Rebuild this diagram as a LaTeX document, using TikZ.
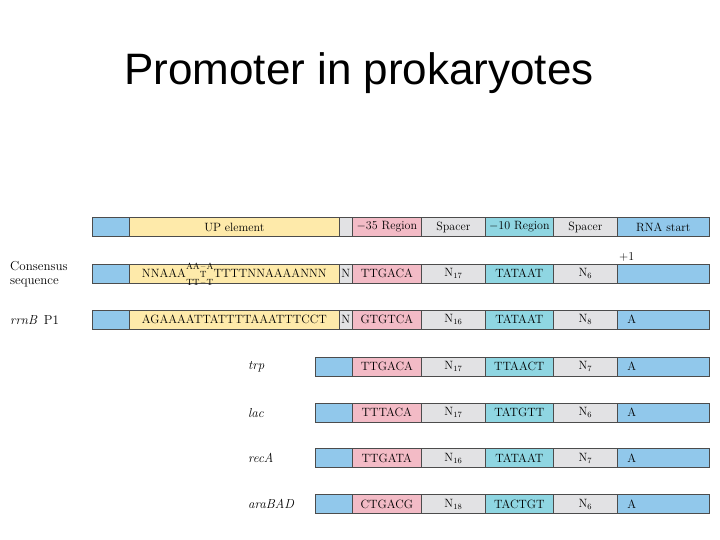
\documentclass[tikz,border=0pt]{standalone}
\usepackage{xcolor}
\usepackage{fontspec}
\usepackage{tikz}

\newfontfamily\titlefont{Liberation Sans}

\definecolor{dnablue}{RGB}{145,200,235}
\definecolor{upyellow}{RGB}{254,234,170}
\definecolor{spgrey}{RGB}{226,226,228}
\definecolor{boxpink}{RGB}{243,187,198}
\definecolor{boxcyan}{RGB}{143,214,226}

% stacked A/T choices in the UP consensus
\newcommand{\upchoice}{\smash{\fontsize{9}{9}\selectfont\renewcommand{\arraystretch}{0.85}%
  \begin{tabular}[c]{@{}c@{}c@{}c@{}}AA&\textendash&A\\&T&\\TT&\textendash&T\end{tabular}}}

\begin{document}
\begin{tikzpicture}[x=1pt, y=-1pt,
    cell/.style={draw=black!70, line width=0.7pt, rectangle, anchor=west,
      minimum height=19pt, inner sep=0pt, font=\fontsize{12}{14}\selectfont},
    leadcell/.style={cell, fill=dnablue, minimum width=37pt},
    upcell/.style={cell, fill=upyellow, minimum width=210pt},
    ncell/.style={cell, fill=spgrey, minimum width=13pt},
    m35cell/.style={cell, fill=boxpink, minimum width=69pt},
    spacercell/.style={cell, fill=spgrey, minimum width=64pt},
    m10cell/.style={cell, fill=boxcyan, minimum width=68pt},
    startcell/.style={cell, fill=dnablue, minimum width=92pt},
    startA/.style={startcell, text width=72pt, inner xsep=10pt, align=left},
    rowlabel/.style={anchor=west, inner sep=0pt, align=left, font=\fontsize{13}{14}\selectfont}]

    \useasboundingbox (0,0) rectangle (720,540);

    % Title
    \node[anchor=base, font=\titlefont\fontsize{44}{50}\selectfont] (title) at (359,85) {Promoter in prokaryotes};

    % Header row
    \node[leadcell] (headLead) at (92,227) {};
    \node[upcell] (headUP) at (129,227) {UP element};
    \node[ncell] (headN) at (339,227) {};
    \node[m35cell] (head35) at (352,227) {$-$35 Region};
    \node[spacercell] (headSpA) at (421,227) {Spacer};
    \node[m10cell] (head10) at (485,227) {$-$10 Region};
    \node[spacercell] (headSpB) at (553,227) {Spacer};
    \node[startcell] (headStart) at (617,227) {RNA start};

    % Consensus sequence
    \node[rowlabel] (conLabel) at (10,274) {Consensus\\sequence};
    \node[rowlabel, font=\fontsize{12}{14}\selectfont] (plusOne) at (619,257) {+1};
    \node[leadcell] (conLead) at (92,273.5) {};
    \node[upcell] (conUP) at (129,273.5) {NNAAA\upchoice TTTTNNAAAANNN};
    \node[ncell] (conN) at (339,273.5) {N};
    \node[m35cell] (con35) at (352,273.5) {TTGACA};
    \node[spacercell] (conSpA) at (421,273.5) {N$_{17}$};
    \node[m10cell] (con10) at (485,273.5) {TATAAT};
    \node[spacercell] (conSpB) at (553,273.5) {N$_{6}$};
    \node[startcell] (conStart) at (617,273.5) {};

    % rrnB P1
    \node[rowlabel] (rrnLabel) at (10,320) {\textit{rrnB}\enspace P1};
    \node[leadcell] (rrnLead) at (92,319.5) {};
    \node[upcell] (rrnUP) at (129,319.5) {AGAAAATTATTTTAAATTTCCT};
    \node[ncell] (rrnN) at (339,319.5) {N};
    \node[m35cell] (rrn35) at (352,319.5) {GTGTCA};
    \node[spacercell] (rrnSpA) at (421,319.5) {N$_{16}$};
    \node[m10cell] (rrn10) at (485,319.5) {TATAAT};
    \node[spacercell] (rrnSpB) at (553,319.5) {N$_{8}$};
    \node[startA] (rrnStart) at (617,319.5) {A};

    % trp
    \node[rowlabel] (trpLabel) at (248,367) {\textit{trp}};
    \node[leadcell] (trpLead) at (315,366.5) {};
    \node[m35cell] (trp35) at (352,366.5) {TTGACA};
    \node[spacercell] (trpSpA) at (421,366.5) {N$_{17}$};
    \node[m10cell] (trp10) at (485,366.5) {TTAACT};
    \node[spacercell] (trpSpB) at (553,366.5) {N$_{7}$};
    \node[startA] (trpStart) at (617,366.5) {A};

    % lac
    \node[rowlabel] (lacLabel) at (248,413) {\textit{lac}};
    \node[leadcell] (lacLead) at (315,412.5) {};
    \node[m35cell] (lac35) at (352,412.5) {TTTACA};
    \node[spacercell] (lacSpA) at (421,412.5) {N$_{17}$};
    \node[m10cell] (lac10) at (485,412.5) {TATGTT};
    \node[spacercell] (lacSpB) at (553,412.5) {N$_{6}$};
    \node[startA] (lacStart) at (617,412.5) {A};

    % recA
    \node[rowlabel] (recLabel) at (248,458) {\textit{recA}};
    \node[leadcell] (recLead) at (315,458) {};
    \node[m35cell] (rec35) at (352,458) {TTGATA};
    \node[spacercell] (recSpA) at (421,458) {N$_{16}$};
    \node[m10cell] (rec10) at (485,458) {TATAAT};
    \node[spacercell] (recSpB) at (553,458) {N$_{7}$};
    \node[startA] (recStart) at (617,458) {A};

    % araBAD
    \node[rowlabel] (araLabel) at (248,504) {\textit{araBAD}};
    \node[leadcell] (araLead) at (315,504) {};
    \node[m35cell] (ara35) at (352,504) {CTGACG};
    \node[spacercell] (araSpA) at (421,504) {N$_{18}$};
    \node[m10cell] (ara10) at (485,504) {TACTGT};
    \node[spacercell] (araSpB) at (553,504) {N$_{6}$};
    \node[startA] (araStart) at (617,504) {A};
\end{tikzpicture}
\end{document}
